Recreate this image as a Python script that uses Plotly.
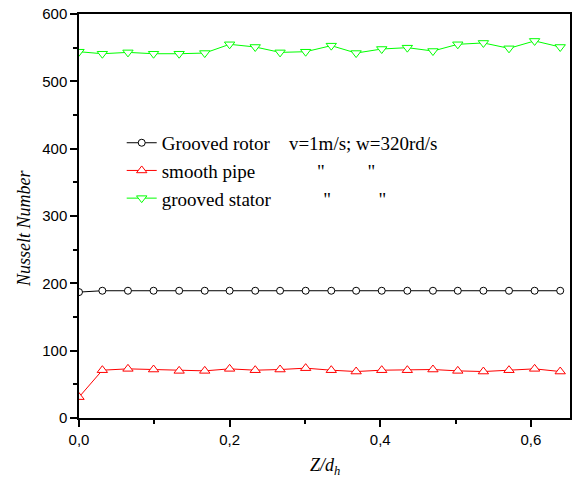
import plotly.graph_objects as go

z_dh = [0.000, 0.031, 0.065, 0.099, 0.133, 0.167, 0.200, 0.234, 0.267, 0.301,
        0.335, 0.368, 0.402, 0.436, 0.470, 0.503, 0.537, 0.571, 0.605, 0.639]
grooved_rotor = [187, 189, 189, 189, 189, 189, 189, 189, 189, 189,
                 189, 189, 189, 189, 189, 189, 189, 189, 189, 189]
smooth_pipe = [31, 71, 73, 72, 70, 70, 73, 71, 72, 74,
               71, 69, 71, 71, 72, 70, 69, 71, 73, 69]
grooved_stator = [544, 541, 543, 541, 541, 542, 555, 551, 543, 544,
                  553, 542, 548, 550, 545, 555, 557, 549, 560, 551]

NB = "\u00a0"
names = [
    "Grooved rotor" + NB * 4 + "v=1m/s; w=320rd/s",
    "smooth pipe" + NB * 13 + '"' + NB * 9 + '"',
    "grooved stator" + NB * 11 + '"' + NB * 10 + '"',
]

fig = go.Figure()
fig.add_trace(go.Scatter(x=z_dh, y=grooved_rotor, mode="lines+markers", name=names[0],
                         line=dict(color="black", width=1),
                         marker=dict(symbol="circle", size=7, color="white",
                                     line=dict(color="black", width=1))))
fig.add_trace(go.Scatter(x=z_dh, y=smooth_pipe, mode="lines+markers", name=names[1],
                         line=dict(color="#ff0000", width=1),
                         marker=dict(symbol="triangle-up", size=9, color="white",
                                     line=dict(color="#ff0000", width=1))))
fig.add_trace(go.Scatter(x=z_dh, y=grooved_stator, mode="lines+markers", name=names[2],
                         line=dict(color="#00ff00", width=1),
                         marker=dict(symbol="triangle-down", size=9, color="white",
                                     line=dict(color="#00ff00", width=1))))

tickfont = dict(family="Liberation Sans, Arial", size=15, color="black")
fig.update_layout(
    width=573, height=481,
    margin=dict(l=79, r=1, t=14, b=63),
    paper_bgcolor="white", plot_bgcolor="white",
    separators=", ",
    showlegend=True,
    legend=dict(x=0.087, y=0.728, xanchor="left", yanchor="top",
                bgcolor="rgba(0,0,0,0)", borderwidth=0,
                font=dict(family="Liberation Serif, Times New Roman", size=19, color="black"),
                tracegroupgap=0, itemwidth=30),
    xaxis=dict(range=[0, 0.652], dtick=0.2, tick0=0, tickformat=".1f",
               showgrid=False, zeroline=False, showline=True, linecolor="black",
               linewidth=1.5, mirror=True, ticks="outside", ticklen=7, tickwidth=1.5,
               tickcolor="black", tickfont=tickfont,
               minor=dict(dtick=0.1, ticks="outside", ticklen=4, tickwidth=1.5,
                          tickcolor="black", showgrid=False)),
    yaxis=dict(range=[0, 600], dtick=100, tick0=0,
               showgrid=False, zeroline=False, showline=True, linecolor="black",
               linewidth=1.5, mirror=True, ticks="outside", ticklen=7, tickwidth=1.5,
               tickcolor="black", tickfont=tickfont,
               minor=dict(dtick=50, ticks="outside", ticklen=4, tickwidth=1.5,
                          tickcolor="black", showgrid=False)),
    annotations=[
        dict(text="<i>Z/d<sub>h</sub></i>", xref="paper", yref="paper", x=0.5, y=0,
             yshift=-48, showarrow=False, xanchor="center", yanchor="middle",
             font=dict(family="Liberation Serif, Times New Roman", size=18, color="black")),
        dict(text="<i>Nusselt Number</i>", xref="paper", yref="paper", x=0, y=0.47,
             xshift=-55, showarrow=False, textangle=-90, xanchor="center", yanchor="middle",
             font=dict(family="Liberation Serif, Times New Roman", size=18, color="black")),
    ],
)

fig.write_html("out.html")
